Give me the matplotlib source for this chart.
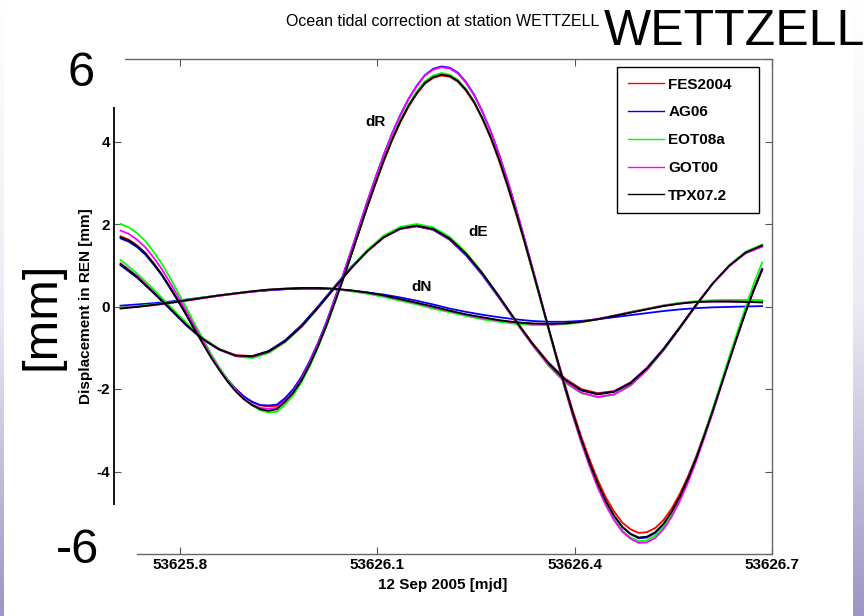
import numpy as np
import matplotlib.pyplot as plt
from matplotlib.patches import Rectangle
from matplotlib.colors import LinearSegmentedColormap

plt.rcParams['font.family'] = ['Liberation Sans', 'DejaVu Sans']

# sample times (mjd): dR is read at a finer step than dE / dN
mjd_r = 53625.71 + 0.0125 * np.arange(79)
mjd = 53625.71 + 0.025 * np.arange(40)

models = ['FES2004', 'AG06', 'EOT08a', 'GOT00', 'TPX07.2']
colors = ['#ff0000', '#0000ff', '#00ff00', '#ff00ff', '#000000']

# radial component [mm]
dR_fes = [1.70, 1.62, 1.48, 1.30, 1.05, 0.78, 0.46, 0.14, -0.20, -0.55,
          -0.88, -1.21, -1.50, -1.77, -2.00, -2.19, -2.32, -2.40, -2.42, -2.41,
          -2.25, -2.04, -1.75, -1.38, -0.95, -0.47, 0.08, 0.64, 1.22, 1.82,
          2.41, 2.98, 3.52, 4.02, 4.46, 4.84, 5.15, 5.40, 5.54, 5.60,
          5.57, 5.45, 5.23, 4.93, 4.54, 4.08, 3.54, 2.94, 2.30, 1.63,
          0.92, 0.22, -0.50, -1.20, -1.88, -2.54, -3.15, -3.70, -4.20, -4.63,
          -4.97, -5.24, -5.40, -5.49, -5.47, -5.37, -5.18, -4.90, -4.54, -4.11,
          -3.62, -3.07, -2.50, -1.90, -1.30, -0.71, -0.13, 0.40, 0.88]
dR_ag = [1.65, 1.57, 1.44, 1.26, 1.02, 0.76, 0.45, 0.13, -0.21, -0.56,
         -0.88, -1.21, -1.50, -1.77, -2.00, -2.18, -2.31, -2.39, -2.40, -2.38,
         -2.22, -2.00, -1.70, -1.32, -0.88, -0.39, 0.17, 0.74, 1.33, 1.94,
         2.55, 3.13, 3.68, 4.19, 4.64, 5.03, 5.35, 5.61, 5.76, 5.82,
         5.79, 5.67, 5.44, 5.13, 4.72, 4.25, 3.70, 3.08, 2.42, 1.72,
         0.99, 0.25, -0.50, -1.23, -1.93, -2.61, -3.23, -3.79, -4.30, -4.73,
         -5.08, -5.35, -5.52, -5.62, -5.60, -5.49, -5.29, -5.00, -4.62, -4.17,
         -3.66, -3.09, -2.50, -1.89, -1.28, -0.69, -0.11, 0.42, 0.90]
dR_eot = [2.00, 1.92, 1.78, 1.59, 1.33, 1.04, 0.70, 0.34, -0.03, -0.42,
          -0.78, -1.15, -1.47, -1.77, -2.03, -2.24, -2.40, -2.52, -2.57, -2.55,
          -2.38, -2.15, -1.84, -1.45, -0.99, -0.49, 0.07, 0.64, 1.23, 1.84,
          2.45, 3.03, 3.58, 4.08, 4.52, 4.90, 5.21, 5.46, 5.60, 5.66,
          5.62, 5.50, 5.27, 4.97, 4.57, 4.11, 3.57, 2.97, 2.32, 1.64,
          0.92, 0.19, -0.55, -1.28, -1.98, -2.66, -3.28, -3.85, -4.36, -4.80,
          -5.15, -5.43, -5.60, -5.69, -5.67, -5.55, -5.34, -5.04, -4.65, -4.19,
          -3.66, -3.08, -2.48, -1.85, -1.22, -0.61, -0.01, 0.56, 1.07]
dR_got = [1.84, 1.76, 1.62, 1.44, 1.19, 0.91, 0.58, 0.24, -0.12, -0.49,
          -0.84, -1.20, -1.51, -1.80, -2.04, -2.24, -2.38, -2.46, -2.48, -2.46,
          -2.29, -2.06, -1.75, -1.36, -0.91, -0.42, 0.14, 0.71, 1.31, 1.92,
          2.53, 3.11, 3.67, 4.18, 4.63, 5.02, 5.34, 5.60, 5.74, 5.80,
          5.77, 5.65, 5.42, 5.11, 4.71, 4.24, 3.69, 3.08, 2.42, 1.72,
          0.99, 0.25, -0.50, -1.25, -1.97, -2.66, -3.29, -3.86, -4.38, -4.82,
          -5.18, -5.46, -5.63, -5.73, -5.72, -5.61, -5.40, -5.10, -4.71, -4.26,
          -3.74, -3.17, -2.57, -1.95, -1.33, -0.72, -0.13, 0.42, 0.92]
dR_tpx = [1.68, 1.60, 1.47, 1.29, 1.05, 0.78, 0.47, 0.14, -0.20, -0.56,
          -0.90, -1.24, -1.54, -1.82, -2.06, -2.25, -2.39, -2.49, -2.53, -2.49,
          -2.31, -2.09, -1.79, -1.41, -0.97, -0.48, 0.07, 0.63, 1.22, 1.82,
          2.42, 2.99, 3.54, 4.04, 4.48, 4.86, 5.17, 5.42, 5.56, 5.62,
          5.59, 5.47, 5.25, 4.95, 4.56, 4.10, 3.57, 2.97, 2.33, 1.65,
          0.94, 0.22, -0.51, -1.23, -1.93, -2.60, -3.22, -3.78, -4.29, -4.72,
          -5.07, -5.34, -5.51, -5.60, -5.58, -5.47, -5.27, -4.98, -4.61, -4.17,
          -3.67, -3.11, -2.53, -1.92, -1.31, -0.71, -0.13, 0.41, 0.90]

# east component [mm]
dE_fes = [1.02, 0.71, 0.34, -0.05, -0.45, -0.78, -1.03, -1.18, -1.20, -1.08, -0.83, -0.47, -0.02, 0.46, 0.92, 1.34, 1.67, 1.88, 1.94, 1.86,
          1.63, 1.26, 0.78, 0.24, -0.33, -0.87, -1.35, -1.74, -2.00, -2.10, -2.05, -1.84, -1.49, -1.03, -0.50, 0.05, 0.56, 0.99, 1.31, 1.47]
dE_ag = [1.00, 0.70, 0.33, -0.06, -0.46, -0.80, -1.05, -1.20, -1.21, -1.08, -0.82, -0.45, 0.00, 0.48, 0.95, 1.36, 1.69, 1.89, 1.95, 1.86,
         1.62, 1.24, 0.76, 0.21, -0.36, -0.90, -1.38, -1.77, -2.03, -2.12, -2.06, -1.85, -1.49, -1.03, -0.50, 0.05, 0.56, 0.98, 1.30, 1.46]
dE_eot = [1.13, 0.80, 0.42, 0.01, -0.40, -0.76, -1.03, -1.21, -1.25, -1.13, -0.87, -0.50, -0.04, 0.45, 0.94, 1.37, 1.72, 1.93, 2.00, 1.92,
          1.69, 1.31, 0.82, 0.25, -0.35, -0.92, -1.43, -1.84, -2.10, -2.20, -2.14, -1.92, -1.55, -1.07, -0.53, 0.03, 0.56, 1.00, 1.33, 1.50]
dE_got = [1.05, 0.74, 0.36, -0.04, -0.44, -0.78, -1.04, -1.20, -1.22, -1.10, -0.85, -0.49, -0.04, 0.44, 0.92, 1.34, 1.68, 1.88, 1.95, 1.87,
          1.64, 1.27, 0.79, 0.23, -0.35, -0.91, -1.41, -1.82, -2.09, -2.19, -2.13, -1.91, -1.53, -1.06, -0.52, 0.03, 0.55, 0.98, 1.29, 1.45]
dE_tpx = [1.03, 0.72, 0.34, -0.05, -0.45, -0.79, -1.04, -1.19, -1.21, -1.09, -0.84, -0.48, -0.03, 0.45, 0.92, 1.34, 1.68, 1.89, 1.96, 1.88,
          1.65, 1.28, 0.80, 0.25, -0.33, -0.88, -1.37, -1.77, -2.03, -2.13, -2.07, -1.86, -1.50, -1.04, -0.51, 0.04, 0.56, 0.99, 1.31, 1.48]

# north component [mm]
dN_fes = [-0.03, 0.00, 0.04, 0.09, 0.15, 0.21, 0.26, 0.31, 0.36, 0.40, 0.42, 0.44, 0.44, 0.42, 0.38, 0.32, 0.25, 0.16, 0.07, -0.03,
          -0.12, -0.21, -0.29, -0.35, -0.40, -0.43, -0.44, -0.42, -0.38, -0.31, -0.23, -0.14, -0.06, 0.02, 0.08, 0.12, 0.14, 0.15, 0.15, 0.14]
dN_ag = [0.02, 0.05, 0.08, 0.12, 0.17, 0.22, 0.27, 0.32, 0.36, 0.39, 0.42, 0.43, 0.43, 0.42, 0.39, 0.34, 0.29, 0.22, 0.14, 0.05,
         -0.05, -0.13, -0.20, -0.26, -0.31, -0.35, -0.37, -0.37, -0.35, -0.31, -0.26, -0.21, -0.16, -0.11, -0.07, -0.04, -0.02, -0.01, 0.00, 0.01]
dN_eot = [-0.02, 0.01, 0.05, 0.10, 0.16, 0.22, 0.27, 0.32, 0.37, 0.41, 0.44, 0.45, 0.45, 0.42, 0.37, 0.31, 0.23, 0.14, 0.05, -0.05,
          -0.14, -0.23, -0.31, -0.37, -0.42, -0.45, -0.45, -0.43, -0.38, -0.31, -0.22, -0.13, -0.05, 0.03, 0.09, 0.13, 0.15, 0.16, 0.16, 0.15]
dN_got = [-0.03, -0.01, 0.03, 0.08, 0.14, 0.20, 0.26, 0.31, 0.36, 0.40, 0.43, 0.45, 0.45, 0.43, 0.39, 0.33, 0.26, 0.17, 0.08, -0.02,
          -0.11, -0.20, -0.28, -0.34, -0.39, -0.42, -0.43, -0.41, -0.37, -0.30, -0.22, -0.14, -0.06, 0.02, 0.07, 0.11, 0.12, 0.12, 0.11, 0.10]
dN_tpx = [-0.05, -0.01, 0.04, 0.09, 0.15, 0.21, 0.27, 0.32, 0.37, 0.41, 0.43, 0.45, 0.45, 0.43, 0.39, 0.34, 0.27, 0.18, 0.09, 0.00,
          -0.10, -0.19, -0.26, -0.33, -0.38, -0.41, -0.42, -0.41, -0.37, -0.31, -0.23, -0.15, -0.07, 0.01, 0.07, 0.11, 0.12, 0.12, 0.11, 0.10]

dR = [dR_fes, dR_ag, dR_eot, dR_got, dR_tpx]
dE = [dE_fes, dE_ag, dE_eot, dE_got, dE_tpx]
dN = [dN_fes, dN_ag, dN_eot, dN_got, dN_tpx]

xticks = [53625.8, 53626.1, 53626.4, 53626.7]
xticklabels = ['53625.8', '53626.1', '53626.4', '53626.7']
yticks = [-6, -4, -2, 0, 2, 4, 6]
yticklabels = ['', '-4', '-2', '0', '2', '4', '']

fig = plt.figure(figsize=(8.64, 6.16), dpi=100)
ax = fig.add_axes([114 / 864, 62 / 616, 658 / 864, 495 / 616])

for i, name in enumerate(models):
    style = dict(color=colors[i], lw=1.3, solid_joinstyle='round')
    ax.plot(mjd_r, dR[i], label=name, **style)
    ax.plot(mjd, dE[i], **style)
    ax.plot(mjd, dN[i], **style)

ax.set_xlim(53625.7, 53626.7)
ax.set_ylim(-6, 6)
ax.set_xticks(xticks)
ax.set_xticklabels(xticklabels)
ax.set_yticks(yticks)
ax.set_yticklabels(yticklabels)
ax.tick_params(direction='in', top=True, right=True, length=5, width=0.8,
               color='#555555', labelsize=11, pad=3)
for lbl in ax.get_xticklabels() + ax.get_yticklabels():
    lbl.set_fontweight('bold')
for side in ['top', 'right', 'bottom']:
    ax.spines[side].set_color('#666666')
    ax.spines[side].set_linewidth(1.0)
ax.spines['left'].set_color('black')
ax.spines['left'].set_linewidth(1.3)

ax.set_xlabel('12 Sep 2005 [mjd]', fontsize=11, fontweight='bold', labelpad=4)
ax.set_ylabel('Displacement in REN [mm]', fontsize=11, fontweight='bold', labelpad=2)

# component labels
ax.text(53626.098, 4.48, 'dR', fontsize=11, fontweight='bold', ha='center', va='center')
ax.text(53626.254, 1.80, 'dE', fontsize=11, fontweight='bold', ha='center', va='center')
ax.text(53626.168, 0.48, 'dN', fontsize=11, fontweight='bold', ha='center', va='center')

leg = ax.legend(loc='upper left', bbox_to_anchor=(0.7644, 0.0, 0.2158, 0.9838), mode='expand',
                borderaxespad=0, fancybox=False, framealpha=1, edgecolor='black',
                prop={'weight': 'bold', 'size': 11}, handlelength=2.4,
                handletextpad=0.25, labelspacing=0.9, borderpad=0.7)
leg.get_frame().set_linewidth(1.0)
for line in leg.get_lines():
    line.set_linewidth(1.0)

fig.text(443 / 864, 1 - 26 / 616, 'Ocean tidal correction at station WETTZELL',
         fontsize=11.5, ha='center', va='baseline')

# white covers behind the big overlay labels
fig.add_artist(Rectangle((0, 1 - 107 / 616), 125 / 864, 107 / 616, transform=fig.transFigure,
                         facecolor='white', edgecolor='none', zorder=3))
fig.add_artist(Rectangle((0, 0), 137 / 864, 111 / 616, transform=fig.transFigure,
                         facecolor='white', edgecolor='none', zorder=3))

# slide edge strips
cmap = LinearSegmentedColormap.from_list('slide', ['#ffffff', '#ecebf4', '#9d95c5'])
grad = np.linspace(0, 1, 256).reshape(-1, 1)
for rect in ([0, 0, 4 / 864, 1], [853 / 864, 0, 11 / 864, 1]):
    sax = fig.add_axes(rect, zorder=5)
    sax.imshow(grad, aspect='auto', cmap=cmap)
    sax.axis('off')

fig.text(81 / 864, 1 - 86 / 616, '6', fontsize=35, ha='center', va='baseline', zorder=6)
fig.text(77 / 864, 1 - 563 / 616, '-6', fontsize=35, ha='center', va='baseline', zorder=6)
fig.text(42 / 864, 1 - 316 / 616, '[mm]', fontsize=35, rotation=90, ha='center', va='center', zorder=6)
fig.text(865 / 864, 1 - 45 / 616, 'WETTZELL', fontsize=36, ha='right', va='baseline', zorder=6)

fig.savefig('out.png', dpi=100)
